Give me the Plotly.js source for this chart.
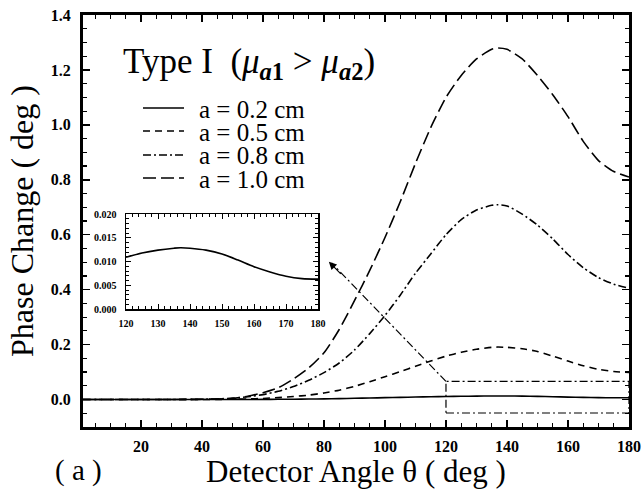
<!DOCTYPE html>
<html>
<head>
<meta charset="utf-8">
<script src="https://cdn.plot.ly/plotly-3.0.1.min.js"></script>
<style>html,body{margin:0;padding:0;background:#fff;}#chart{width:643px;height:489px;}</style>
</head>
<body>
<div id="chart"></div>
<script>
// Detector angle (deg)
const theta = [1, 10, 20, 30, 40, 45, 50, 55, 60, 65, 70, 75, 80, 85, 90, 95, 100, 105, 110, 115, 120, 125, 130, 135, 137, 140, 145, 150, 155, 160, 165, 170, 175, 180];
// Phase change (deg) for each inclusion radius
const phase_a02 = [0, 0, 0, 0, 0.00005, 0.0001, 0.0002, 0.0003, 0.0005, 0.0008, 0.0012, 0.0018, 0.0025, 0.0034, 0.0045, 0.0056, 0.0068, 0.0079, 0.009, 0.0100, 0.0109, 0.0118, 0.0124, 0.0128, 0.0129, 0.0128, 0.0124, 0.0116, 0.0103, 0.0089, 0.0078, 0.0069, 0.0064, 0.0063];
const phase_a05 = [0, 0, 0, 0, 0, 0.0005, 0.001, 0.002, 0.004, 0.007, 0.011, 0.016, 0.024, 0.034, 0.048, 0.065, 0.083, 0.102, 0.121, 0.14, 0.158, 0.172, 0.183, 0.19, 0.191, 0.19, 0.185, 0.175, 0.158, 0.14, 0.123, 0.11, 0.102, 0.099];
const phase_a08 = [0, 0, 0, 0, 0.001, 0.002, 0.005, 0.01, 0.018, 0.03, 0.047, 0.07, 0.098, 0.133, 0.18, 0.24, 0.306, 0.38, 0.46, 0.53, 0.60, 0.655, 0.69, 0.707, 0.709, 0.705, 0.675, 0.635, 0.585, 0.528, 0.48, 0.444, 0.42, 0.405];
const phase_a10 = [0, 0, 0, 0, 0.001, 0.002, 0.004, 0.012, 0.025, 0.043, 0.075, 0.115, 0.17, 0.255, 0.36, 0.47, 0.59, 0.72, 0.86, 0.99, 1.10, 1.18, 1.24, 1.275, 1.28, 1.275, 1.24, 1.18, 1.11, 1.03, 0.94, 0.87, 0.83, 0.81];
// Inset: a = 0.2 cm, 120-180 deg
const insetTheta = [120, 125, 130, 135, 137, 140, 145, 150, 155, 160, 165, 170, 175, 180];
const insetPhase = [0.0109, 0.0118, 0.0124, 0.0128, 0.0129, 0.0128, 0.0124, 0.0116, 0.0103, 0.0089, 0.0078, 0.0069, 0.0064, 0.0063];

const legendLabels = ['a = 0.2 cm', 'a = 0.5 cm', 'a = 0.8 cm', 'a = 1.0 cm'];
const dashes = ['solid', '7px,5px', '8px,3px,2px,3px', '13px,5px'];
const series = [phase_a02, phase_a05, phase_a08, phase_a10];

const FONT = 'Liberation Serif';
const traces = series.map((s, i) => ({
  x: theta, y: s, type: 'scatter', mode: 'lines', name: legendLabels[i],
  line: {color: '#000', width: 1.6, dash: dashes[i], shape: 'spline', smoothing: 0.6},
  xaxis: 'x', yaxis: 'y', showlegend: false
}));
traces.push({
  x: insetTheta, y: insetPhase, type: 'scatter', mode: 'lines',
  line: {color: '#000', width: 1.6, shape: 'spline', smoothing: 0.8},
  xaxis: 'x2', yaxis: 'y2', showlegend: false
});

// geometry in paper fractions
const L = 83, R = 629, T = 15, B = 427, W = 643, H = 489;
const px = v => (v - L) / (R - L);
const py = v => (B - v) / (B - T);

const legendRows = [108, 131, 155, 178];
const shapes = [];
const annotations = [];
legendRows.forEach((yy, i) => {
  shapes.push({type: 'line', xref: 'paper', yref: 'paper', x0: px(143), x1: px(184), y0: py(yy), y1: py(yy),
    line: {color: '#000', width: 1.6, dash: dashes[i]}});
  annotations.push({xref: 'paper', yref: 'paper', x: px(198), y: py(yy + 1), xanchor: 'left', yanchor: 'middle',
    text: legendLabels[i], showarrow: false, height: 21, borderpad: 0, font: {family: FONT, size: 25, color: '#000'}});
});
// zoom box and arrow
shapes.push({type: 'rect', xref: 'x', yref: 'y', x0: 120, x1: 180, y0: -0.049, y1: 0.066,
  line: {color: '#000', width: 1.2, dash: '8px,3px,2px,3px'}});
shapes.push({type: 'line', xref: 'x', yref: 'y', x0: 120, y0: 0.066, x1: 82.5, y1: 0.497,
  line: {color: '#000', width: 1.2, dash: '8px,3px,2px,3px'}});
annotations.push({xref: 'x', yref: 'y', axref: 'x', ayref: 'y', x: 81.6, y: 0.502, ax: 86, ay: 0.452,
  text: '', showarrow: true, arrowhead: 2, arrowsize: 1.3, arrowwidth: 1.2, arrowcolor: '#000', standoff: 0});

annotations.push({xref: 'paper', yref: 'paper', x: px(121), y: py(64), xanchor: 'left', yanchor: 'middle',
  text: 'Type I&nbsp;&nbsp;(<i>μ</i><sub><i><b>a</b></i><b>1</b></sub>&nbsp;>&nbsp;<i>μ</i><sub><i><b>a</b></i><b>2</b></sub>)', showarrow: false,
  font: {family: FONT, size: 35, color: '#000'}});
annotations.push({xref: 'paper', yref: 'paper', x: px(78), y: py(470), xanchor: 'center', yanchor: 'middle',
  text: '( a )', showarrow: false, font: {family: FONT, size: 29, color: '#000'}});

const tickFont = {family: FONT, size: 16, color: '#000', weight: 700};
const insetFont = {family: FONT, size: 10, color: '#000', weight: 700};

const layout = {
  width: W, height: H,
  margin: {l: L, r: W - R, t: T, b: H - B, pad: 0},
  paper_bgcolor: '#fff', plot_bgcolor: '#fff',
  showlegend: false,
  font: {family: FONT, color: '#000'},
  xaxis: {
    range: [1, 180], tick0: 0, dtick: 20, ticks: 'inside', ticklen: 7, tickwidth: 1.5, tickcolor: '#000',
    minor: {dtick: 5, ticks: 'inside', ticklen: 4, tickwidth: 1.2, tickcolor: '#000'},
    showline: true, linewidth: 3, linecolor: '#000', mirror: 'ticks', showgrid: false, zeroline: false,
    tickfont: tickFont, ticklabelstandoff: 3,
    title: {text: 'Detector Angle θ ( deg )', font: {family: FONT, size: 31, color: '#000'}, standoff: 6}
  },
  yaxis: {
    range: [-0.1, 1.4], tick0: 0, dtick: 0.2, tickformat: '.1f', ticks: 'inside', ticklen: 7, tickwidth: 1.5, tickcolor: '#000',
    minor: {dtick: 0.05, ticks: 'inside', ticklen: 4, tickwidth: 1.2, tickcolor: '#000'},
    showline: true, linewidth: 3, linecolor: '#000', mirror: 'ticks', showgrid: false, zeroline: false,
    tickfont: tickFont, ticklabelstandoff: 6,
    title: {text: 'Phase Change ( deg )', font: {family: FONT, size: 32, color: '#000'}, standoff: 8}
  },
  xaxis2: {
    domain: [px(126), px(318)], anchor: 'y2', range: [120, 180], dtick: 10, ticks: 'inside', ticklen: 5, tickwidth: 1, tickcolor: '#000',
    minor: {dtick: 2, ticks: 'inside', ticklen: 3, tickwidth: 1, tickcolor: '#000'},
    showline: true, linewidth: 1.5, linecolor: '#000', mirror: 'ticks', showgrid: false, zeroline: false,
    tickfont: insetFont, ticklabelstandoff: 4
  },
  yaxis2: {
    domain: [py(309), py(214)], anchor: 'x2', range: [0, 0.02], dtick: 0.005, tickformat: '.3f', ticks: 'inside', ticklen: 5, tickwidth: 1, tickcolor: '#000',
    minor: {dtick: 0.001, ticks: 'inside', ticklen: 3, tickwidth: 1, tickcolor: '#000'},
    showline: true, linewidth: 1.5, linecolor: '#000', mirror: 'ticks', showgrid: false, zeroline: false,
    tickfont: insetFont, ticklabelstandoff: 6
  },
  shapes: shapes,
  annotations: annotations
};

Plotly.newPlot('chart', traces, layout, {staticPlot: true, displayModeBar: false});
</script>
</body>
</html>
